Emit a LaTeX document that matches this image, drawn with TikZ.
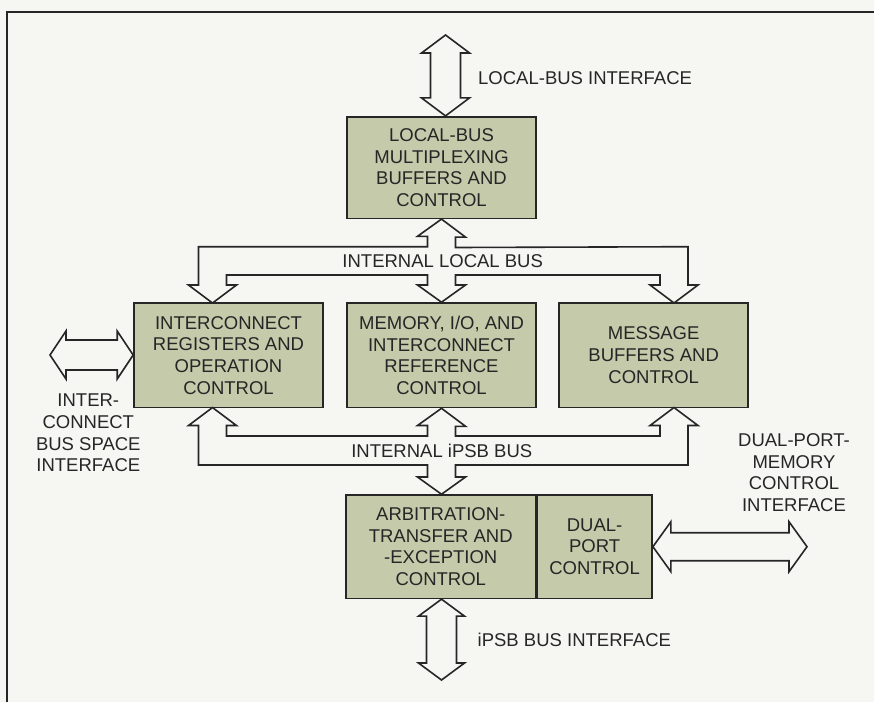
\documentclass[tikz,border=0pt]{standalone}
\usepackage{fontspec}
\setmainfont{Liberation Sans}
\usetikzlibrary{calc}
\definecolor{boxfill}{RGB}{196,202,170}
\definecolor{bgc}{RGB}{246,246,243}
\definecolor{ink}{RGB}{38,38,38}
\tikzset{
  blk/.style={draw=ink, fill=boxfill, line width=1.6pt, rectangle, inner sep=0pt, align=center,
     font=\fontsize{18.5}{21.7}\selectfont, text=ink},
  bus/.style={draw=ink, line width=1.6pt, line join=miter},
  lbl/.style={font=\fontsize{18.5}{21.7}\selectfont, text=ink, inner sep=0pt, align=center},
}
% vertical double arrow: #1 top point, #2 bottom point, #3 shaft half, #4 head half, #5 head length
\newcommand\vdarrow[5]{%
  \draw[bus] let \p1=(#1), \p2=(#2) in
   (\x1,\y1) -- (\x1+#4pt,\y1-#5pt) -- (\x1+#3pt,\y1-#5pt) -- (\x1+#3pt,\y2+#5pt) -- (\x1+#4pt,\y2+#5pt)
   -- (\x1,\y2) -- (\x1-#4pt,\y2+#5pt) -- (\x1-#3pt,\y2+#5pt) -- (\x1-#3pt,\y1-#5pt) -- (\x1-#4pt,\y1-#5pt) -- cycle;}
% horizontal double arrow: #1 left point, #2 right point
\newcommand\hdarrow[5]{%
  \draw[bus] let \p1=(#1), \p2=(#2) in
   (\x1,\y1) -- (\x1+#5pt,\y1+#4pt) -- (\x1+#5pt,\y1+#3pt) -- (\x2-#5pt,\y1+#3pt) -- (\x2-#5pt,\y1+#4pt)
   -- (\x2,\y1) -- (\x2-#5pt,\y1-#4pt) -- (\x2-#5pt,\y1-#3pt) -- (\x1+#5pt,\y1-#3pt) -- (\x1+#5pt,\y1-#4pt) -- cycle;}
\begin{document}
\begin{tikzpicture}[x=1pt,y=-1pt]
\fill[bgc] (0,0) rectangle (874,702);
\useasboundingbox (0,0) rectangle (874,702);
% frame
\draw[ink, line width=1.4pt] (7,702) -- (7,12) -- (874,12);

% blocks
\node[blk, minimum width=189pt, minimum height=101.6pt] (lb) at (441.5,167.5)
  {LOCAL-BUS\\MULTIPLEXING\\BUFFERS AND\\CONTROL};
\node[blk, minimum width=189pt, minimum height=104.5pt] (ic) at (228.5,355.25)
  {INTERCONNECT\\REGISTERS AND\\OPERATION\\CONTROL};
\node[blk, minimum width=189pt, minimum height=104.5pt] (mem) at (441.5,355.25)
  {MEMORY, I/O, AND\\INTERCONNECT\\REFERENCE\\CONTROL};
\node[blk, minimum width=189pt, minimum height=104.5pt] (msg) at (653.7,355.25)
  {MESSAGE\\BUFFERS AND\\CONTROL};
\node[blk, minimum width=189.5pt, minimum height=103.3pt] (arb) at (440.75,546.7)
  {ARBITRATION-\\TRANSFER AND\\-EXCEPTION\\CONTROL};
\node[blk, minimum width=115pt, minimum height=103.3pt, anchor=west] (dp) at (arb.east)
  {DUAL-\\PORT\\CONTROL};

% external interface arrows
\coordinate (lbif) at (445.5,35);
\vdarrow{lbif}{lbif |- lb.north}{15}{24}{18}
\coordinate (psbif) at (441.5,680);
\vdarrow{arb.south -| psbif}{psbif}{15}{23}{17}
\coordinate (icif) at (50,355);
\hdarrow{icif}{ic.west |- icif}{15}{24}{16}
\coordinate (dpif) at (807,546.7);
\hdarrow{dp.east}{dpif |- dp.east}{14}{25}{18}

% internal local bus
\draw[bus] (lb.south) -- ++(24,18) -- ++(-10,0) -- ++(0,10.4) -- (688,246.7) -- (688,285) -- (698,285)
  -- (674,303) -- (650,285) -- (660,285) -- (660,275) -- (455.5,275) -- (455.5,285) -- (465.5,285)
  -- (mem.north) -- (417.5,285) -- (427.5,285) -- (427.5,275) -- (226.5,275) -- (226.5,285)
  -- (236.5,285) -- (212.5,303) -- (188.5,285) -- (198.5,285) -- (198.5,246.7) -- (427.5,246.7)
  -- (427.5,236.3) -- (417.5,236.3) -- cycle;

% internal iPSB bus
\draw[bus] (mem.south) -- ++(24,18) -- ++(-10,0) -- (455.5,436) -- (660,436) -- (660,425.5) -- (650,425.5)
  -- (674,407.5) -- (698,425.5) -- (688,425.5) -- (688,465) -- (455.5,465) -- (455.5,477) -- (465.5,477)
  -- (arb.north -| mem.south) -- (417.5,477) -- (427.5,477) -- (427.5,465) -- (198.5,465) -- (198.5,425.5)
  -- (188.5,425.5) -- (212.5,407.5) -- (236.5,425.5) -- (226.5,425.5) -- (226.5,436) -- (427.5,436)
  -- (427.5,425.5) -- (417.5,425.5) -- cycle;

% labels
\node[lbl, anchor=west] (tlocalif) at (478,78) {LOCAL-BUS INTERFACE};
\node[lbl] (tilb) at (442.7,261.5) {INTERNAL LOCAL BUS};
\node[lbl] (tipsb) at (441.8,451) {INTERNAL iPSB BUS};
\node[lbl, anchor=west] (tpsbif) at (477.5,640) {iPSB BUS INTERFACE};
\node[lbl] (ticif) at (88.3,433) {INTER-\\CONNECT\\BUS SPACE\\INTERFACE};
\node[lbl] (tdpif) at (794,472.5) {DUAL-PORT-\\MEMORY\\CONTROL\\INTERFACE};
\end{tikzpicture}
\end{document}
